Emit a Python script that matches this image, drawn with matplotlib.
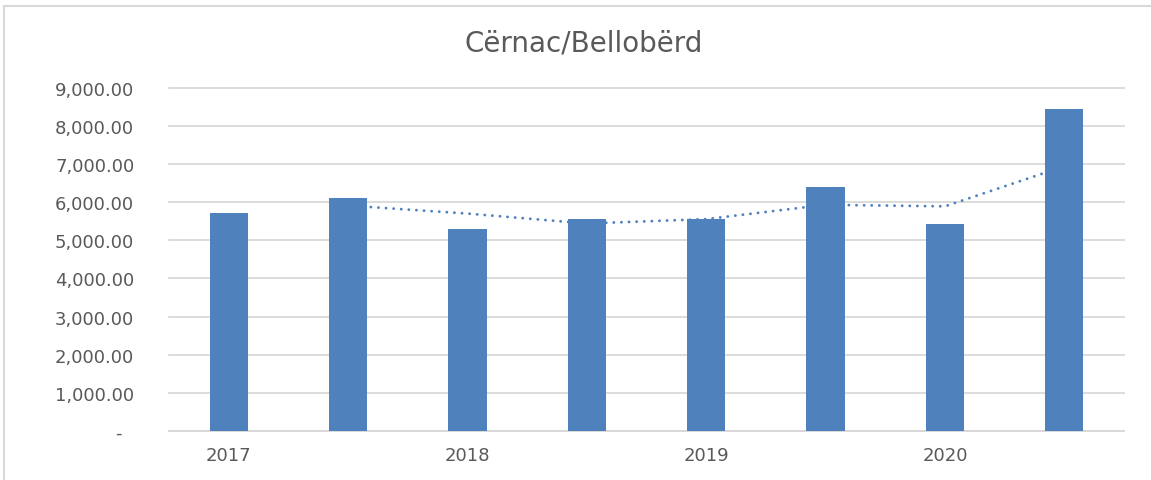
import matplotlib.pyplot as plt
from matplotlib.patches import Rectangle

# data
values = [5710, 6105, 5300, 5555, 5560, 6385, 5435, 8440]
trend = [5910, 5700, 5440, 5555, 5930, 5890, 6940]  # moving average line, from 2nd bar
year_labels = ['2017', '2018', '2019', '2020']
title = 'Cërnac/Bellobërd'

blue = '#4F81BD'
grid = '#D9D9D9'
txt = '#595959'

fig = plt.figure(figsize=(11.51, 4.81), dpi=100)
ax = fig.add_axes([169/1151, 49/481, 955/1151, 343.3/481])

x = list(range(1, len(values) + 1))
ax.bar(x, values, width=0.32, color=blue, zorder=3)
ax.plot(x[1:], trend, color=blue, lw=2.1, linestyle=(0, (0.01, 2.6)),
        dash_capstyle='round', zorder=2)

ax.set_xlim(0.5, len(values) + 0.5)
ax.set_ylim(0, 9000)
ax.set_yticks(range(0, 9001, 1000))
ax.set_yticklabels(['-  ' if v == 0 else '{:,.2f}'.format(v) for v in range(0, 9001, 1000)])
ax.set_xticks(x[::2])
ax.set_xticklabels(year_labels)

ax.yaxis.grid(True, color=grid, lw=1.3, zorder=0)
for gl in ax.get_ygridlines():
    gl.set_clip_on(False)
ax.set_axisbelow(True)
for s in ['top', 'right', 'left']:
    ax.spines[s].set_visible(False)
ax.spines['bottom'].set_color(grid)
ax.spines['bottom'].set_linewidth(1.3)
ax.tick_params(axis='y', length=0, pad=25, labelsize=13, labelcolor=txt)
ax.tick_params(axis='x', length=0, pad=11, labelsize=13, labelcolor=txt)

fig.text(584/1151, 1 - 43/481, title, ha='center', va='center', fontsize=20, color=txt)

# chart frame
fig.patches.append(Rectangle((4/1151, -0.05), 1.05, 1 - 7/481 + 0.05,
                             transform=fig.transFigure, fill=False,
                             edgecolor=grid, lw=1.5))

fig.savefig('out.png', dpi=100)
